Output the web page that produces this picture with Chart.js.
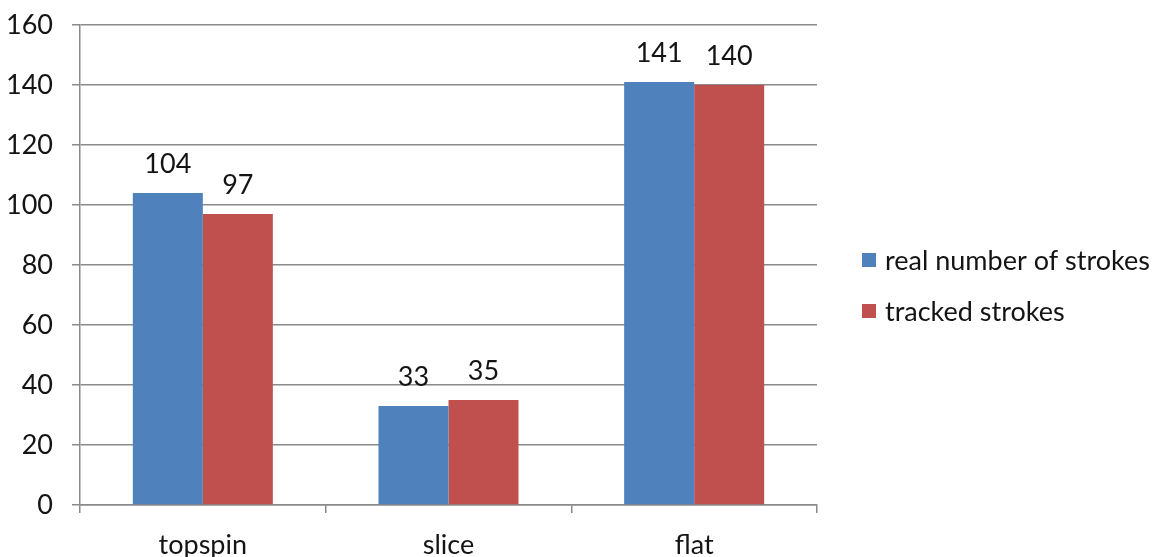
<!DOCTYPE html>
<html>
<head>
<meta charset="utf-8">
<script src="https://cdn.jsdelivr.net/npm/chart.js@4/dist/chart.umd.min.js"></script>
<style>
  html, body { margin: 0; padding: 0; background: #ffffff; }
  #wrap { width: 1164px; height: 557px; position: relative; }
</style>
</head>
<body>
<div id="wrap"><canvas id="c" width="1164" height="557"></canvas></div>
<script>
const categories = ['topspin', 'slice', 'flat'];
const realStrokes = [104, 33, 141];
const trackedStrokes = [97, 35, 140];
const seriesNames = ['real number of strokes', 'tracked strokes'];
const yTicks = [0, 20, 40, 60, 80, 100, 120, 140, 160];

const BLUE = '#4F81BD';
const RED = '#C0504D';
const FONT = 'Lato, "Open Sans", sans-serif';
const FSIZE = 27;
const TEXT = '#141414';
const GRID = '#8a8a8a';

// value labels above each bar
const valueLabels = {
  id: 'valueLabels',
  afterDatasetsDraw(chart) {
    const ctx = chart.ctx;
    ctx.save();
    ctx.font = FSIZE + 'px ' + FONT;
    ctx.fillStyle = TEXT;
    ctx.textAlign = 'center';
    ctx.textBaseline = 'alphabetic';
    chart.data.datasets.forEach((ds, i) => {
      chart.getDatasetMeta(i).data.forEach((bar, j) => {
        ctx.fillText(String(ds.data[j]), bar.x, bar.y - 20);
      });
    });
    ctx.restore();
  }
};

// legend on the right, square swatches
const sideLegend = {
  id: 'sideLegend',
  afterDraw(chart) {
    const ctx = chart.ctx;
    const colors = [BLUE, RED];
    const rows = [260, 311];
    ctx.save();
    ctx.font = FSIZE + 'px ' + FONT;
    ctx.textBaseline = 'middle';
    ctx.textAlign = 'left';
    seriesNames.forEach((name, i) => {
      ctx.fillStyle = colors[i];
      ctx.fillRect(862, rows[i] - 7, 14, 14);
      ctx.fillStyle = TEXT;
      ctx.fillText(name, 885, rows[i] + 1);
    });
    ctx.restore();
  }
};

new Chart(document.getElementById('c'), {
  type: 'bar',
  data: {
    labels: categories,
    datasets: [
      { label: seriesNames[0], data: realStrokes, backgroundColor: BLUE },
      { label: seriesNames[1], data: trackedStrokes, backgroundColor: RED }
    ]
  },
  options: {
    responsive: false,
    animation: false,
    devicePixelRatio: 1,
    layout: { padding: { top: 25, right: 347, bottom: 0, left: 0 } },
    datasets: { bar: { categoryPercentage: 0.57, barPercentage: 1.0 } },
    plugins: {
      legend: { display: false },
      tooltip: { enabled: false }
    },
    scales: {
      x: {
        offset: true,
        afterFit(axis) {
          axis.height = 52;
          axis.paddingLeft = 0; axis.paddingRight = 0;
          axis.paddingTop = 0; axis.paddingBottom = 0;
        },
        grid: {
          display: true,
          offset: true,
          drawOnChartArea: false,
          drawTicks: true,
          tickLength: 8,
          color: GRID,
          lineWidth: 1.5
        },
        border: { display: true, color: GRID, width: 1.5 },
        ticks: { font: { family: FONT, size: FSIZE }, color: TEXT, padding: 16 }
      },
      y: {
        min: 0,
        max: 160,
        afterFit(axis) {
          axis.width = 80;
          axis.paddingTop = 0; axis.paddingBottom = 0;
          axis.paddingLeft = 0; axis.paddingRight = 0;
        },
        afterBuildTicks(axis) { axis.ticks = yTicks.map(v => ({ value: v })); },
        grid: {
          color: GRID,
          lineWidth: 1.5,
          tickLength: 8,
          drawTicks: true
        },
        border: { display: true, color: GRID, width: 1.5 },
        ticks: { font: { family: FONT, size: FSIZE }, color: TEXT, padding: 19 }
      }
    }
  },
  plugins: [valueLabels, sideLegend]
});
</script>
</body>
</html>
